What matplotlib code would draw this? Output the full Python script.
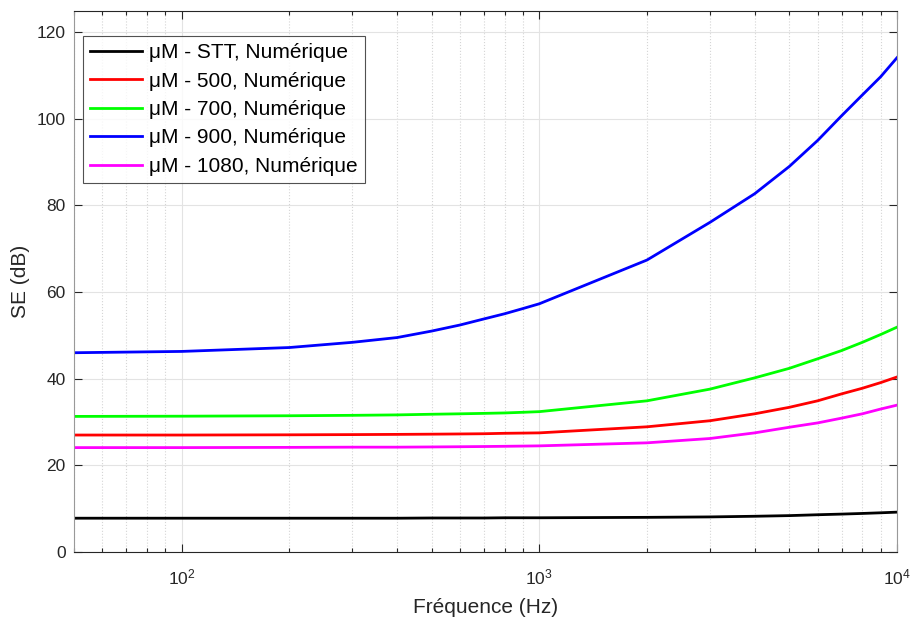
import numpy as np
import matplotlib
matplotlib.use("Agg")
import matplotlib.pyplot as plt
from matplotlib.ticker import LogLocator, NullFormatter, MultipleLocator

plt.rcParams['font.family'] = ['Liberation Sans', 'DejaVu Sans']
plt.rcParams['mathtext.default'] = 'regular'

# frequency points (Hz)
freq = [50, 100, 200, 300, 400, 500, 600, 700, 800, 900,
        1000, 2000, 3000, 4000, 5000, 6000, 7000, 8000, 9000, 10000]

# SE values (dB)
se_stt = [7.8, 7.8, 7.8, 7.8, 7.8, 7.85, 7.85, 7.85, 7.9, 7.9,
          7.9, 8.0, 8.1, 8.25, 8.4, 8.6, 8.75, 8.9, 9.05, 9.2]
se_500 = [27.0, 27.0, 27.05, 27.1, 27.15, 27.2, 27.25, 27.3, 27.4, 27.45,
          27.5, 28.9, 30.3, 31.9, 33.4, 34.9, 36.5, 37.8, 39.1, 40.4]
se_700 = [31.3, 31.35, 31.45, 31.55, 31.65, 31.8, 31.9, 32.0, 32.1, 32.25,
          32.4, 34.9, 37.6, 40.2, 42.4, 44.6, 46.5, 48.4, 50.2, 51.9]
se_900 = [46.0, 46.3, 47.2, 48.4, 49.5, 51.0, 52.4, 53.8, 55.0, 56.2,
          57.3, 67.4, 76.1, 82.7, 89.0, 95.0, 100.7, 105.5, 109.7, 114.1]
se_1080 = [24.1, 24.1, 24.15, 24.2, 24.2, 24.25, 24.3, 24.35, 24.4, 24.45,
           24.5, 25.2, 26.2, 27.5, 28.8, 29.8, 30.9, 31.9, 33.0, 33.9]

labels = ['μM - STT, Numérique', 'μM - 500, Numérique', 'μM - 700, Numérique',
          'μM - 900, Numérique', 'μM - 1080, Numérique']
colors = ['#000000', '#ff0000', '#00ff00', '#0000ff', '#ff00ff']
series = [se_stt, se_500, se_700, se_900, se_1080]

fig = plt.figure(figsize=(9.12, 6.19), dpi=100)
ax = fig.add_axes([74 / 912, 1 - 552 / 619, (897 - 74) / 912, (552 - 10.5) / 619])

for s, c, lab in zip(series, colors, labels):
    ax.plot(freq, s, color=c, lw=2.0, label=lab)

ax.set_xscale('log')
ax.set_xlim(50, 10000)
ax.set_ylim(0, 125)
ax.yaxis.set_major_locator(MultipleLocator(20))
ax.xaxis.set_major_locator(LogLocator(base=10))
ax.xaxis.set_minor_locator(LogLocator(base=10, subs=np.arange(2, 10)))
ax.xaxis.set_minor_formatter(NullFormatter())

ax.grid(True, which='major', color='#e3e3e3', lw=0.8, ls='-')
ax.grid(True, which='minor', axis='x', color='#d5d5d5', lw=0.8, ls=':')
ax.set_axisbelow(True)

ax.tick_params(which='both', direction='in', top=True, right=True,
               colors='#262626', labelsize=12.5)
ax.tick_params(which='major', length=5.5, width=0.8)
ax.tick_params(which='minor', length=2.8, width=0.8)
ax.tick_params(axis='x', which='major', pad=11)
ax.tick_params(axis='y', which='major', pad=6)
for side in ['top', 'bottom']:
    ax.spines[side].set_color('#262626')
for side in ['left', 'right']:
    ax.spines[side].set_color('#999999')
for sp in ax.spines.values():
    sp.set_linewidth(0.8)

ax.set_xlabel('Fréquence (Hz)', fontsize=15, color='#262626', labelpad=7.5)
ax.set_ylabel('SE (dB)', fontsize=15, color='#262626', labelpad=5)

leg = ax.legend(loc='upper left', bbox_to_anchor=(9 / 823, 1 - 25.5 / 541.5),
                borderaxespad=0, fontsize=15, frameon=True, fancybox=False,
                edgecolor='#262626', handlelength=2.5, handletextpad=0.3,
                labelspacing=0.45, borderpad=0.35)
leg.get_frame().set_linewidth(0.8)

fig.savefig('out.png', dpi=100, facecolor='white')
